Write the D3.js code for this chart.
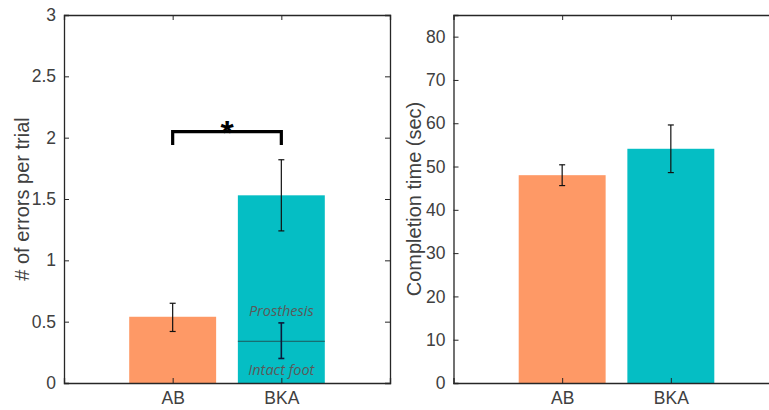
<!DOCTYPE html>
<html lang="en">
<head>
<meta charset="utf-8">
<title>Errors and completion time</title>
<script src="https://cdn.jsdelivr.net/npm/d3@7"></script>
<style>
  body { margin: 0; background: #fff; }
  text { font-family: "Liberation Sans", Arial, sans-serif; fill: #404040; }
  .note { font-family: "Open Sans", sans-serif; font-style: italic; fill: #5a5a5a; }
</style>
</head>
<body>
<svg width="769" height="410"></svg>
<script>
// data
var groups = ["AB", "BKA"];
var groupColors = ["#fe9966", "#05bec4"];

var errMean = [0.54, 1.53];
var errLow = [0.42, 1.24];
var errHigh = [0.65, 1.82];
var errTicks = [0, 0.5, 1, 1.5, 2, 2.5, 3];

// BKA split: intact foot vs prosthesis
var splitValue = 0.34;
var splitLow = 0.20, splitHigh = 0.49;

var timeMean = [48.0, 54.1];
var timeLow = [45.6, 48.6];
var timeHigh = [50.4, 59.6];
var timeTicks = [0, 10, 20, 30, 40, 50, 60, 70, 80];

var svg = d3.select("svg");
var axisColor = "#262626";

function panel(opt) {
  var g = svg.append("g");
  var x = d3.scaleLinear().domain([0, 3]).range([opt.left, opt.left + 326]);
  var y = d3.scaleLinear().domain(opt.yDomain).range([383, 15]);
  var bw = x(0.8) - x(0);

  // bars
  g.selectAll("rect.bar")
    .data(groups)
    .enter().append("rect")
    .attr("class", "bar")
    .attr("x", function(d, i) { return x(i + 1) - bw / 2; })
    .attr("y", function(d, i) { return y(opt.mean[i]); })
    .attr("width", bw)
    .attr("height", function(d, i) { return y(0) - y(opt.mean[i]); })
    .style("fill", function(d, i) { return groupColors[i]; });

  // error bars
  var eb = g.selectAll("g.eb")
    .data(groups)
    .enter().append("g").attr("class", "eb");
  eb.append("line")
    .attr("x1", function(d, i) { return x(i + 1); })
    .attr("x2", function(d, i) { return x(i + 1); })
    .attr("y1", function(d, i) { return y(opt.low[i]); })
    .attr("y2", function(d, i) { return y(opt.high[i]); });
  eb.append("line")
    .attr("x1", function(d, i) { return x(i + 1) - 3; })
    .attr("x2", function(d, i) { return x(i + 1) + 3; })
    .attr("y1", function(d, i) { return y(opt.low[i]); })
    .attr("y2", function(d, i) { return y(opt.low[i]); });
  eb.append("line")
    .attr("x1", function(d, i) { return x(i + 1) - 3; })
    .attr("x2", function(d, i) { return x(i + 1) + 3; })
    .attr("y1", function(d, i) { return y(opt.high[i]); })
    .attr("y2", function(d, i) { return y(opt.high[i]); });
  eb.selectAll("line").style("stroke", "#111").style("stroke-width", 1.2);

  // axes (inner ticks, MATLAB box)
  var yl = d3.axisLeft(y).tickValues(opt.ticks).tickSize(-5).tickPadding(8)
    .tickFormat(d3.format("~g"));
  var yr = d3.axisRight(y).tickValues(opt.ticks).tickSize(-5).tickFormat("");
  var xb = d3.axisBottom(x).tickValues([1, 2]).tickSize(-5).tickPadding(9)
    .tickFormat(function(d) { return groups[d - 1]; });
  var xt = d3.axisTop(x).tickValues([1, 2]).tickSize(-5).tickFormat("");

  g.append("g").attr("transform", "translate(" + x(0) + ",0)").call(yl);
  g.append("g").attr("transform", "translate(" + x(3) + ",0)").call(yr);
  g.append("g").attr("transform", "translate(0," + y.range()[0] + ")").call(xb);
  g.append("g").attr("transform", "translate(0," + y.range()[1] + ")").call(xt);

  g.selectAll(".domain").style("stroke", axisColor).style("stroke-width", 1.3);
  g.selectAll(".tick line").style("stroke", axisColor);
  g.selectAll(".tick text").style("font-size", "17.5px").style("fill", "#404040")
    .style("font-family", "'Liberation Sans', Arial, sans-serif");

  g.append("text")
    .attr("transform", "translate(" + opt.labelX + "," + (y.range()[0] + y.range()[1]) / 2 + ") rotate(-90)")
    .attr("text-anchor", "middle")
    .style("font-size", "20px")
    .text(opt.label);

  return { x: x, y: y, bw: bw, g: g };
}

var left = panel({
  left: 64, yDomain: [0, 3], ticks: errTicks,
  mean: errMean, low: errLow, high: errHigh,
  label: "# of errors per trial", labelX: 28.5
});

var right = panel({
  left: 453.5, yDomain: [0, 85], ticks: timeTicks,
  mean: timeMean, low: timeLow, high: timeHigh,
  label: "Completion time (sec)", labelX: 420.5
});

// BKA split line and its error bar
var lx = left.x, ly = left.y, lg = left.g;
lg.append("line")
  .attr("x1", lx(2) - left.bw / 2).attr("x2", lx(2) + left.bw / 2)
  .attr("y1", ly(splitValue)).attr("y2", ly(splitValue))
  .style("stroke", "#1d5a5c").style("stroke-width", 1);
[[splitLow, splitHigh]].forEach(function(r) {
  lg.append("line").attr("x1", lx(2)).attr("x2", lx(2))
    .attr("y1", ly(r[0])).attr("y2", ly(r[1]));
  lg.append("line").attr("x1", lx(2) - 3).attr("x2", lx(2) + 3)
    .attr("y1", ly(r[0])).attr("y2", ly(r[0]));
  lg.append("line").attr("x1", lx(2) - 3).attr("x2", lx(2) + 3)
    .attr("y1", ly(r[1])).attr("y2", ly(r[1]));
});
lg.selectAll("line:not([style])").style("stroke", "#0d1a3a").style("stroke-width", 1.6);

lg.append("text").attr("class", "note")
  .attr("x", lx(2)).attr("y", ly(splitValue) - 25)
  .attr("text-anchor", "middle").style("font-size", "14.5px")
  .text("Prosthesis");
lg.append("text").attr("class", "note")
  .attr("x", lx(2)).attr("y", ly(0) - 8)
  .attr("text-anchor", "middle").style("font-size", "14.5px")
  .text("Intact foot");

// significance bracket
var by = ly(2.05), bl = ly(1.94);
lg.append("path")
  .attr("d", "M" + lx(1) + "," + bl + "V" + by + "H" + lx(2) + "V" + bl)
  .style("fill", "none").style("stroke", "#000").style("stroke-width", 3.2);
lg.append("text")
  .attr("x", (lx(1) + lx(2)) / 2).attr("y", by + 12)
  .attr("text-anchor", "middle")
  .style("font-size", "34px").style("font-weight", "bold").style("fill", "#000")
  .text("*");
</script>
</body>
</html>
